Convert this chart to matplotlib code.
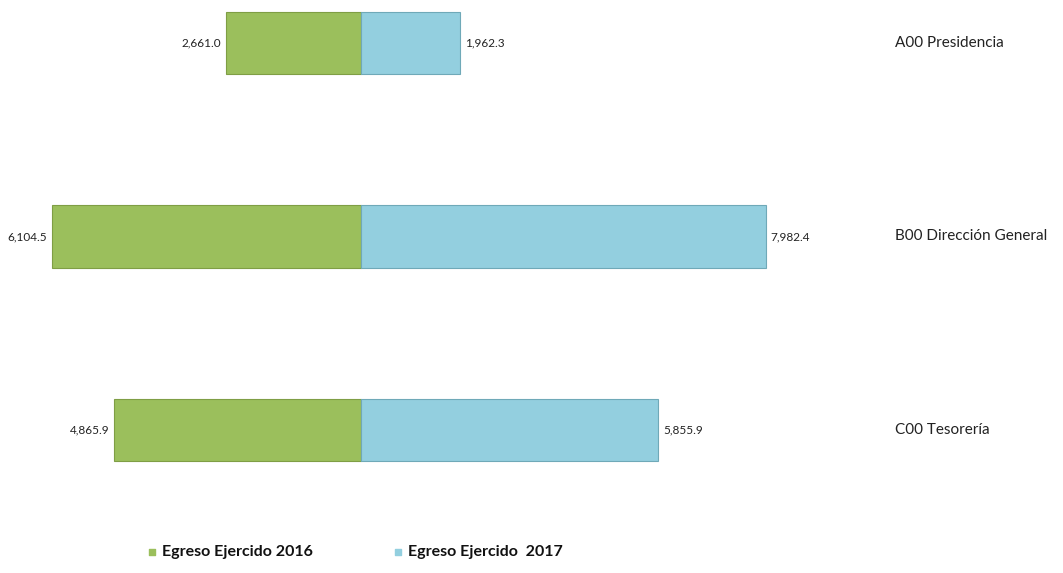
import numpy as np
import matplotlib
matplotlib.use("Agg")
import matplotlib.pyplot as plt

# data
categories = ["A00 Presidencia", "B00 Dirección General", "C00 Tesorería"]
egreso_2016 = [2661.0, 6104.5, 4865.9]
egreso_2017 = [1962.3, 7982.4, 5855.9]
series_names = ["Egreso Ejercido 2016", "Egreso Ejercido  2017"]

green = "#9bbf5c"
blue = "#93cfdf"

plt.rcParams['font.family'] = ["Lato", "DejaVu Sans"]

fig = plt.figure(figsize=(10.63, 5.73), dpi=100)
ax = fig.add_axes([0, 0, 1, 1])

px = 0.0507                 # pixels per unit
zero_px = 361
ax.set_xlim(-zero_px / px, (1063 - zero_px) / px)
step = 193.5
ax.set_ylim((573 - 43) / step, -43 / step)

y = np.arange(len(categories))
h = 0.325
ax.barh(y, [-v for v in egreso_2016], height=h, color=green, edgecolor="#7f9e45", linewidth=0.8)
ax.barh(y, egreso_2017, height=h, color=blue, edgecolor="#6fa9b8", linewidth=0.8)

pad = 5 / px
for yi, a, b, cat in zip(y, egreso_2016, egreso_2017, categories):
    ax.text(-a - pad, yi, f"{a:,.1f}", ha="right", va="center", fontsize=8.5, color="#222222")
    ax.text(b + pad, yi, f"{b:,.1f}", ha="left", va="center", fontsize=8.5, color="#222222")
    ax.text(895 / 1063, yi, cat, transform=ax.get_yaxis_transform(), ha="left", va="center",
            fontsize=11, color="#222222")

# legend drawn by hand
leg_y = (552 - 43) / step
for x0, col, name in [(152, green, series_names[0]), (398, blue, series_names[1])]:
    ax.scatter([(x0 - zero_px) / px], [leg_y], marker="s", s=22, color=col)
    ax.text((x0 + 10 - zero_px) / px, leg_y, name, ha="left", va="center", fontsize=11.5,
            fontweight="bold", color="#111111")

ax.axis("off")
fig.savefig("out.png", dpi=100)
